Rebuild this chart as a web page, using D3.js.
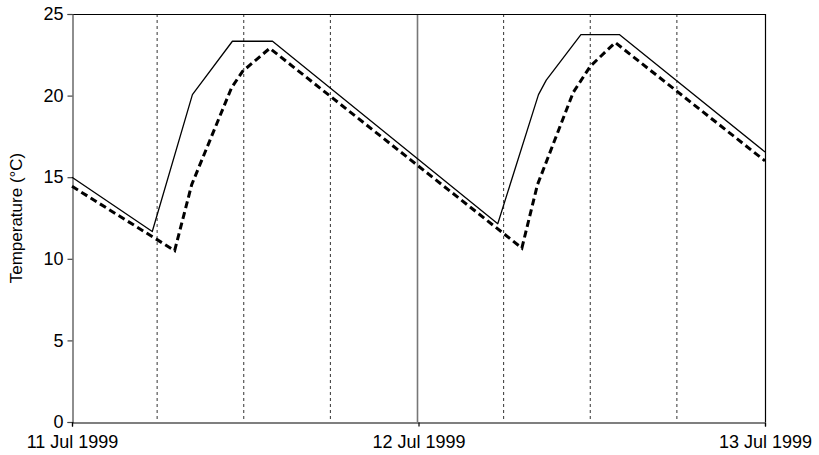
<!DOCTYPE html>
<html>
<head>
<meta charset="utf-8">
<script src="https://cdn.jsdelivr.net/npm/d3@7"></script>
<style>
  html, body { margin: 0; padding: 0; background: #fff; }
  svg { display: block; font-family: "Liberation Sans", Arial, sans-serif; }
</style>
</head>
<body>
<svg id="chart" width="819" height="455"></svg>
<script>
// ---- data (hours since 11 Jul 1999 00:00, temperature °C) ----
const solidHours = [0, 5.56, 8.34, 11.11, 13.89, 29.49, 32.31, 32.85, 35.25, 37.91, 48];
const solidTemps = [15.0, 11.67, 20.06, 23.33, 23.33, 12.15, 20.06, 20.95, 23.74, 23.74, 16.55];
const dashedHours = [0, 7.11, 8.29, 11.06, 11.83, 13.70, 31.16, 32.24, 34.72, 35.90, 37.63, 48];
const dashedTemps = [14.44, 10.5, 14.54, 20.5, 21.5, 22.9, 10.66, 14.54, 20.2, 21.8, 23.25, 16.0];
const dottedHours = [6, 12, 18, 30, 36, 42];
const dayHours = [0, 24, 48];
const dayLabels = ["11 Jul 1999", "12 Jul 1999", "13 Jul 1999"];
const yTicks = [0, 5, 10, 15, 20, 25];
const yTitle = "Temperature (\u00B0C)";

const W = 819, H = 455;
const margin = { left: 72, right: 54, top: 14, bottom: 33 };
const svg = d3.select("#chart");

const x = d3.scaleLinear().domain([0, 48]).range([margin.left, W - margin.right]);
const y = d3.scaleLinear().domain([0, 25]).range([H - margin.bottom, margin.top]);

// dotted 6-hour lines
svg.append("g").selectAll("line").data(dottedHours).join("line")
  .attr("x1", d => x(d) - 1.5).attr("x2", d => x(d) - 1.5)
  .attr("y1", y(25)).attr("y2", y(0))
  .attr("stroke", "#333").attr("stroke-width", 1).attr("stroke-dasharray", "3,3");

// solid day line at 12 Jul
svg.append("line")
  .attr("x1", x(24) - 1).attr("x2", x(24) - 1).attr("y1", y(25)).attr("y2", y(0))
  .attr("stroke", "#777").attr("stroke-width", 1.6);

// frame: top and right
svg.append("line").attr("x1", x(0)).attr("x2", x(48)).attr("y1", y(25) + 0.5).attr("y2", y(25) + 0.5)
  .attr("stroke", "#000").attr("stroke-width", 1.2);
svg.append("line").attr("x1", x(48) + 0.5).attr("x2", x(48) + 0.5).attr("y1", y(25)).attr("y2", y(0))
  .attr("stroke", "#000").attr("stroke-width", 1.2);

// y axis
const yAxis = svg.append("g").attr("transform", `translate(${x(0) + 0.5},0)`)
  .call(d3.axisLeft(y).tickValues(yTicks).tickSize(5).tickPadding(4).tickFormat(d3.format("d")));
yAxis.select(".domain").attr("stroke", "#444").attr("stroke-width", 1.2);
yAxis.selectAll(".tick line").attr("stroke", "#444").attr("stroke-width", 1.2);
yAxis.selectAll("text").attr("font-size", 18).attr("fill", "#000")
  .attr("font-family", "Liberation Sans, Arial, sans-serif");

// x axis
const xAxis = svg.append("g").attr("transform", `translate(0,${y(0) + 0.5})`)
  .call(d3.axisBottom(x).tickValues(dayHours).tickSize(4).tickPadding(9)
    .tickFormat((d, i) => dayLabels[i]));
xAxis.select(".domain").attr("stroke", "#000").attr("stroke-width", 1.2);
xAxis.selectAll(".tick line").attr("stroke", "#000").attr("stroke-width", 1.2);
xAxis.selectAll("text").attr("font-size", 18).attr("fill", "#000")
  .attr("font-family", "Liberation Sans, Arial, sans-serif");

// y title
svg.append("text")
  .attr("transform", `translate(22,${(y(0) + y(25)) / 2}) rotate(-90)`)
  .attr("text-anchor", "middle")
  .attr("font-size", 17)
  .text(yTitle);

// lines
const solidData = solidHours.map((h, i) => [h, solidTemps[i]]);
const dashedData = dashedHours.map((h, i) => [h, dashedTemps[i]]);
const line = d3.line().x(d => x(d[0])).y(d => y(d[1]));

svg.append("path").datum(solidData).attr("d", line)
  .attr("fill", "none").attr("stroke", "#000").attr("stroke-width", 1.3)
  .attr("stroke-linejoin", "round");
svg.append("path").datum(dashedData).attr("d", line)
  .attr("fill", "none").attr("stroke", "#000").attr("stroke-width", 3)
  .attr("stroke-dasharray", "7,4");
</script>
</body>
</html>
